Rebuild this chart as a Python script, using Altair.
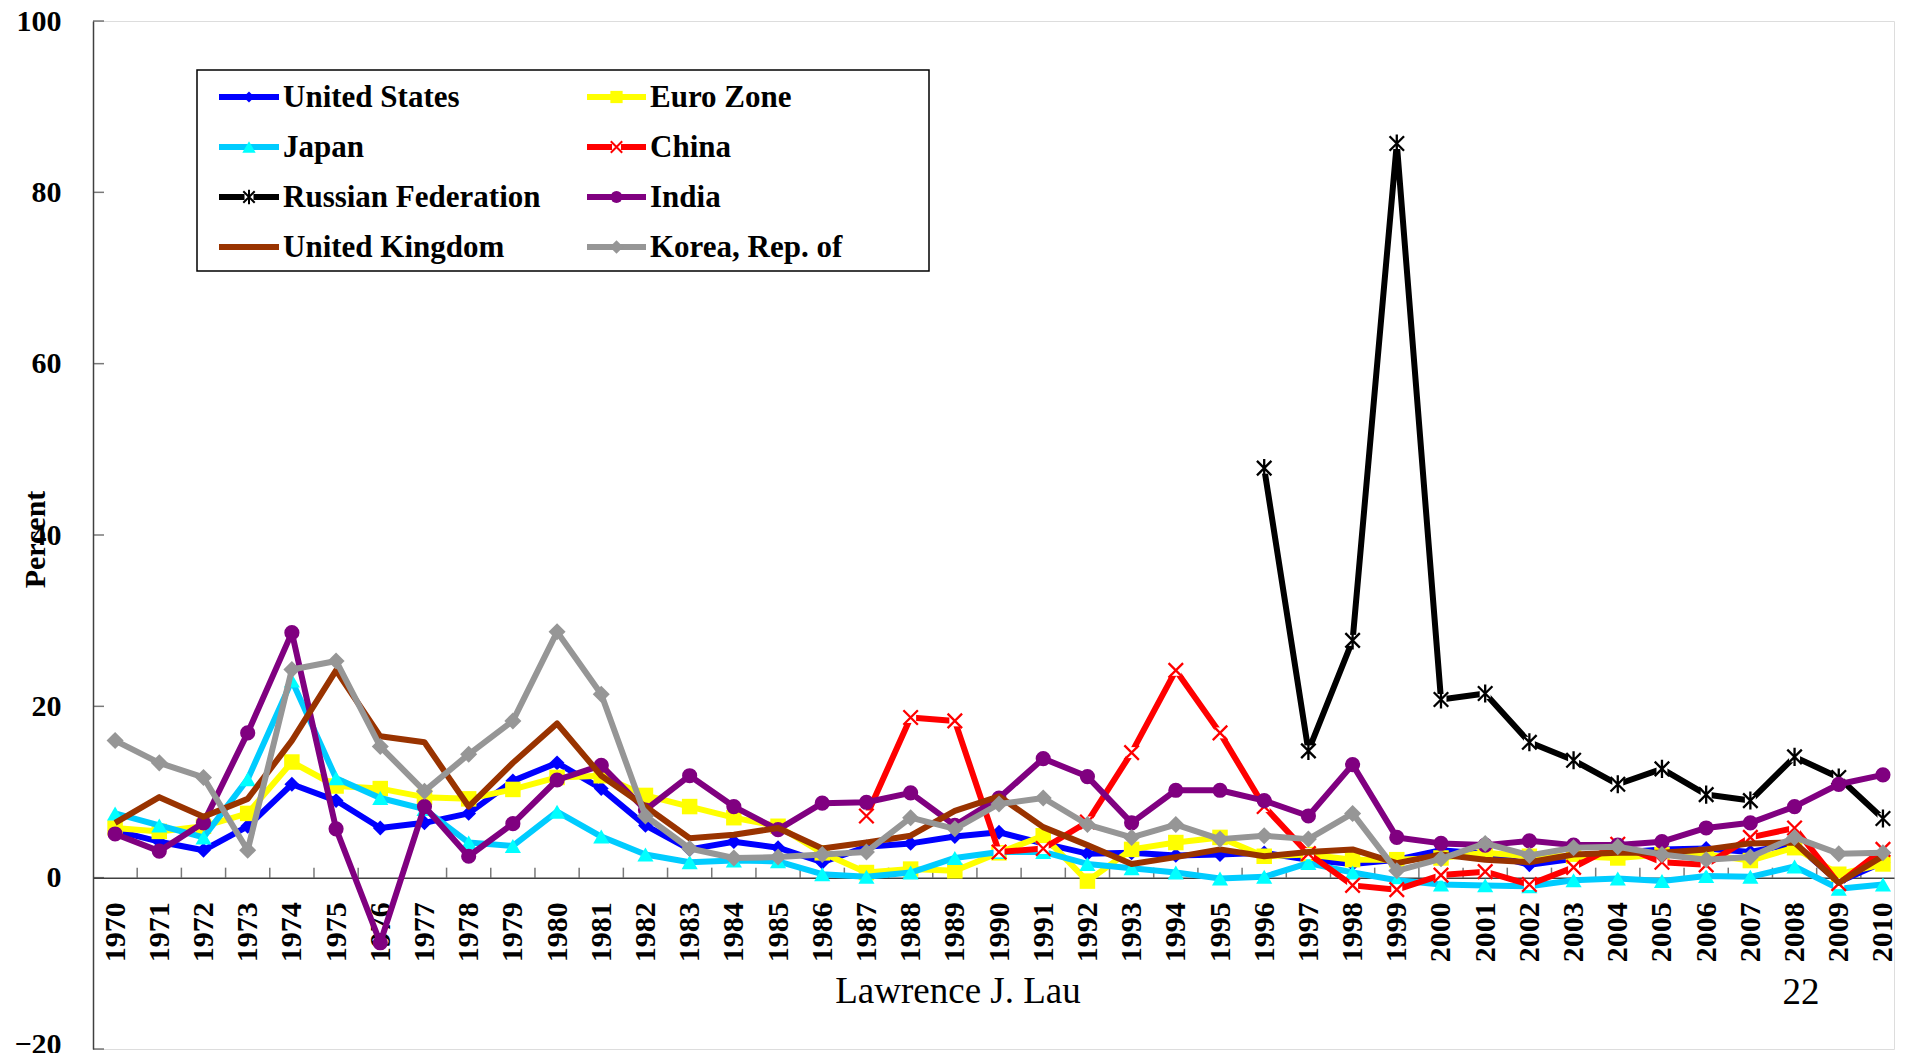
import altair as alt
import pandas as pd

years = list(range(1970, 2011))

us = [5.5, 4.2, 3.2, 6.0, 10.9, 9.0, 5.8, 6.4, 7.5, 11.3, 13.4, 10.4, 6.1, 3.3, 4.2, 3.5, 1.8, 3.6, 4.0, 4.8,
      5.3, 4.0, 2.8, 2.9, 2.6, 2.7, 2.9, 2.1, 1.6, 2.1, 3.2, 2.8, 1.5, 2.2, 2.9, 3.3, 3.4, 3.0, 4.0, -0.5, 1.8]
euro = [5.8, 5.4, 6.0, 7.5, 13.5, 10.7, 10.4, 9.4, 9.2, 10.3, 11.7, 11.9, 9.6, 8.3, 7.0, 6.0, 2.9, 0.6, 1.0, 0.8,
        2.9, 4.9, -0.4, 3.3, 4.1, 4.7, 2.5, 2.7, 2.1, 2.1, 2.3, 2.9, 2.5, 2.5, 2.3, 2.7, 2.7, 2.0, 3.5, 0.4, 1.6]
japan = [7.5, 6.1, 4.7, 11.5, 23.0, 11.6, 9.3, 8.0, 4.1, 3.7, 7.7, 4.8, 2.7, 1.8, 2.0, 1.9, 0.4, 0.1, 0.6, 2.3,
         3.0, 3.0, 1.6, 1.1, 0.6, -0.1, 0.1, 1.7, 0.6, -0.3, -0.8, -0.9, -1.0, -0.3, -0.1, -0.4, 0.2, 0.1, 1.3, -1.3, -0.8]
china_years = list(range(1987, 2011))
china = [7.2, 18.7, 18.3, 3.0, 3.4, 6.5, 14.6, 24.2, 16.9, 8.3, 2.8, -0.9, -1.4, 0.3, 0.7, -0.8, 1.2, 3.9,
         1.8, 1.5, 4.7, 5.8, -0.7, 3.3]
russia_years = list(range(1996, 2011))
russia = [47.8, 14.8, 27.7, 85.7, 20.8, 21.5, 15.8, 13.7, 10.9, 12.7, 9.7, 9.0, 14.1, 11.7, 6.9]
india = [5.1, 3.1, 6.4, 16.9, 28.6, 5.7, -7.6, 8.3, 2.5, 6.3, 11.4, 13.1, 7.9, 11.9, 8.3, 5.6, 8.7, 8.8, 9.9, 6.1,
         9.3, 13.9, 11.8, 6.4, 10.2, 10.2, 9.0, 7.2, 13.2, 4.7, 4.0, 3.8, 4.3, 3.8, 3.8, 4.2, 5.8, 6.4, 8.3, 10.9, 12.0]
uk = [6.4, 9.4, 7.1, 9.2, 16.0, 24.2, 16.5, 15.8, 8.3, 13.4, 18.0, 11.9, 8.3, 4.6, 5.0, 5.8, 3.4, 4.1, 4.9, 7.8,
      9.5, 5.9, 3.8, 1.6, 2.4, 3.3, 2.5, 3.0, 3.3, 1.7, 2.7, 2.1, 1.8, 2.7, 2.9, 2.9, 3.3, 4.0, 4.1, -0.6, 2.5]
korea = [16.0, 13.4, 11.7, 3.2, 24.3, 25.3, 15.3, 10.1, 14.4, 18.3, 28.7, 21.4, 7.2, 3.4, 2.3, 2.4, 2.7, 3.0, 7.0, 5.7,
         8.6, 9.3, 6.2, 4.7, 6.2, 4.5, 4.9, 4.5, 7.5, 0.8, 2.2, 4.0, 2.6, 3.5, 3.6, 2.7, 2.1, 2.4, 4.7, 2.8, 2.9]

series_names = ["United States", "Euro Zone", "Japan", "China", "Russian Federation", "India",
                "United Kingdom", "Korea, Rep. of"]
series_years = [years, years, years, china_years, russia_years, years, years, years]
series_values = [us, euro, japan, china, russia, india, uk, korea]

y_ticks = [-20, 0, 20, 40, 60, 80, 100]

# ---- styles ----
X_PATH = "M-1,-1L1,1M-1,1L1,-1"
AST_PATH = "M-1,-1L1,1M-1,1L1,-1M0,-1.25L0,1.25"
styles = {
    "United States": dict(line="#0000FF", mcol="#0000FF", shape="diamond", filled=True, size=220, lsize=120),
    "Euro Zone": dict(line="#FFFF00", mcol="#FFFF00", shape="square", filled=True, size=240, lsize=150),
    "Japan": dict(line="#00CCFF", mcol="#00FFFF", shape="triangle-up", filled=True, size=260, lsize=180),
    "China": dict(line="#FF0000", mcol="#FF0000", shape=X_PATH, filled=False, size=210, lsize=130, under=True),
    "Russian Federation": dict(line="#000000", mcol="#000000", shape=AST_PATH, filled=False, size=210, lsize=130, under=True),
    "India": dict(line="#800080", mcol="#800080", shape="circle", filled=True, size=230, lsize=140),
    "United Kingdom": dict(line="#993300", mcol=None),
    "Korea, Rep. of": dict(line="#969696", mcol="#969696", shape="diamond", filled=True, size=290, lsize=180),
}

W, H = 1801, 1028
YMIN, YMAX = -20, 100
y0_px = H * (YMAX - 0) / (YMAX - YMIN)
FONT = "Liberation Serif"
AX = "#404040"

x_axis = alt.Axis(values=years, format="d", labelAngle=270, ticks=False, tickSize=0, grid=False,
                  domainColor=AX, domainWidth=1.5, offset=-(H - y0_px), labelFont=FONT, labelFontSize=30,
                  labelFontWeight="bold", labelColor="black", labelPadding=24, labelFlush=False,
                  labelOverlap=False, title=None)
y_axis = alt.Axis(values=y_ticks, ticks=False, tickSize=0, grid=False, domainColor=AX, domainWidth=1.5,
                  labelFont=FONT, labelFontSize=30, labelFontWeight="bold", labelColor="black",
                  labelPadding=32, labelFlush=False,
                  labelOffset={"condition": {"test": "datum.value === -20", "value": -5}, "value": 0},
                  title="Percent", titleFont=FONT, titleFontSize=30,
                  titleFontWeight="bold", titleColor="black", titleAngle=270, titleX=-58, titleY=518,
                  titleAlign="center", titleBaseline="middle")
x_scale = alt.Scale(domain=[1969.5, 2010.25], nice=False, zero=False)
y_scale = alt.Scale(domain=[YMIN, YMAX], nice=False, zero=False)


def X(field):
    return alt.X(f"{field}:Q", scale=x_scale, axis=x_axis)


def Y(field):
    return alt.Y(f"{field}:Q", scale=y_scale, axis=y_axis)


layers = []

# inward tick marks
ytick_df = pd.DataFrame({"v": y_ticks})
layers.append(alt.Chart(ytick_df).mark_tick(size=11, thickness=1.5, color=AX).encode(
    y=Y("v"), x=alt.value(5.5)))
xtick_df = pd.DataFrame({"b": [yr + 0.5 for yr in years[:-1]]})
layers.append(alt.Chart(xtick_df).mark_tick(size=10, thickness=1.5, color=AX).encode(
    x=X("b"), y=alt.value(y0_px - 5)))

# series
for name, yrs, vals in zip(series_names, series_years, series_values):
    st = styles[name]
    df = pd.DataFrame({"year": yrs, "value": vals})
    base = alt.Chart(df)
    layers.append(base.mark_line(color=st["line"], strokeWidth=6, strokeJoin="round").encode(
        x=X("year"), y=Y("value")))
    if st["mcol"] is None:
        continue
    if st.get("under"):
        layers.append(base.mark_point(shape="square", filled=True, color="white", size=120, opacity=1).encode(
            x=X("year"), y=Y("value")))
    if st["filled"]:
        layers.append(base.mark_point(shape=st["shape"], filled=True, color=st["mcol"], size=st["size"],
                                      opacity=1).encode(x=X("year"), y=Y("value")))
    else:
        layers.append(base.mark_point(shape=st["shape"], filled=False, color=st["mcol"], size=st["size"],
                                      strokeWidth=2.3, opacity=1).encode(x=X("year"), y=Y("value")))

# legend (manual, laid out from the series list)
one = pd.DataFrame({"k": [0]})
layers.append(alt.Chart(one).mark_rect(fill="white", stroke="black", strokeWidth=1.5).encode(
    x=alt.value(104), x2=alt.value(836), y=alt.value(49), y2=alt.value(250)))
col_line = [(126, 186), (494, 553)]
col_text = [190, 557]
for i, name in enumerate(series_names):
    st = styles[name]
    row, col = i // 2, i % 2
    ly = 76 + 50 * row
    x0, x1 = col_line[col]
    d = pd.DataFrame({"name": [name]})
    layers.append(alt.Chart(d).mark_rule(color=st["line"], strokeWidth=6).encode(
        x=alt.value(x0), x2=alt.value(x1), y=alt.value(ly)))
    if st["mcol"] is not None:
        mx = (x0 + x1) / 2
        if st.get("under"):
            layers.append(alt.Chart(d).mark_point(shape="square", filled=True, color="white", size=80,
                                                  opacity=1).encode(x=alt.value(mx), y=alt.value(ly)))
        if st["filled"]:
            layers.append(alt.Chart(d).mark_point(shape=st["shape"], filled=True, color=st["mcol"],
                                                  size=st["lsize"], opacity=1).encode(
                x=alt.value(mx), y=alt.value(ly)))
        else:
            layers.append(alt.Chart(d).mark_point(shape=st["shape"], filled=False, color=st["mcol"],
                                                  size=st["lsize"], strokeWidth=2, opacity=1).encode(
                x=alt.value(mx), y=alt.value(ly)))
    layers.append(alt.Chart(d).mark_text(font=FONT, fontSize=31, fontWeight="bold", color="black",
                                         align="left", baseline="middle").encode(
        x=alt.value(col_text[col]), y=alt.value(ly + 1), text="name:N"))

# footer texts
layers.append(alt.Chart(one).mark_text(font=FONT, fontSize=37, color="black", align="center",
                                       baseline="alphabetic").encode(
    x=alt.value(865), y=alt.value(982), text=alt.value("Lawrence J. Lau")))
layers.append(alt.Chart(one).mark_text(font=FONT, fontSize=37, color="black", align="center",
                                       baseline="alphabetic").encode(
    x=alt.value(1708), y=alt.value(983), text=alt.value("22")))

chart = alt.layer(*layers).properties(
    width=W, height=H,
    autosize=alt.AutoSizeParams(type="none"),
    padding={"left": 85, "top": 13, "right": 3, "bottom": 4},
).configure_view(stroke=None).configure(background="white")

chart.save("out.html", embed_options={"renderer": "svg", "actions": False})
